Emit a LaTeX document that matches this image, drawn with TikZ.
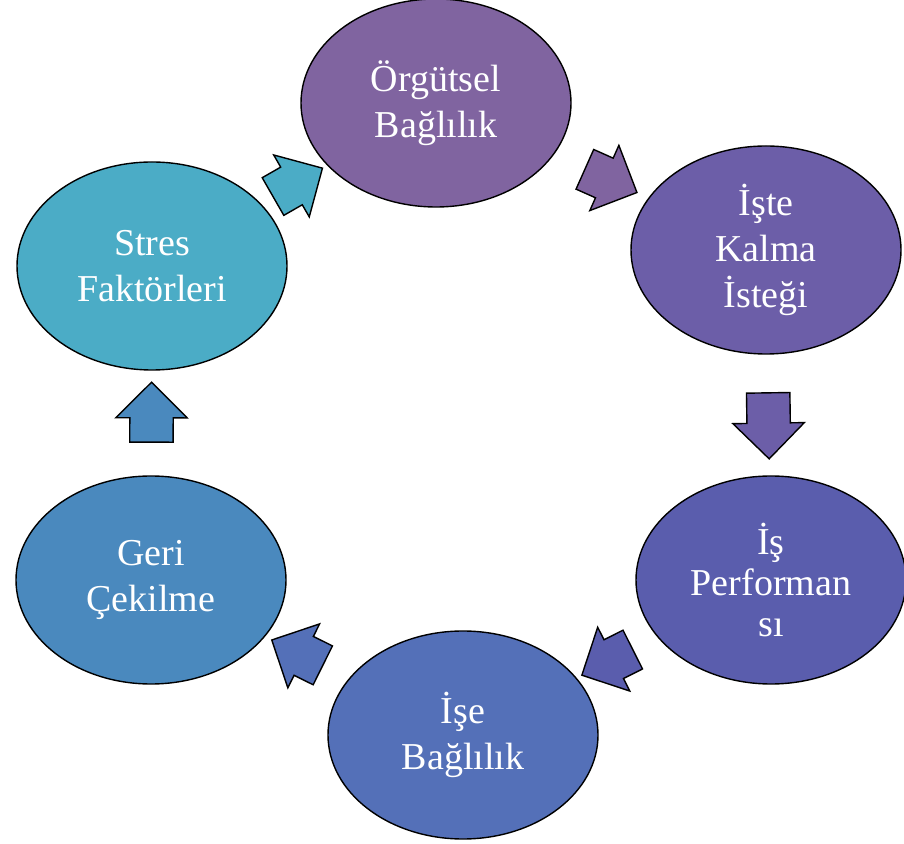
\documentclass[tikz,border=0pt]{standalone}
\usepackage{fontspec}
\setmainfont{Liberation Serif}
\usetikzlibrary{shapes.geometric,shapes.arrows}
\definecolor{cyclestres}{HTML}{4BACC6}
\definecolor{cycleorgut}{HTML}{8064A0}
\definecolor{cyclekalma}{HTML}{6C5EA8}
\definecolor{cycleperf}{HTML}{5A5DAD}
\definecolor{cyclebag}{HTML}{5470B8}
\definecolor{cyclegeri}{HTML}{4A89BE}

\begin{document}
\begin{tikzpicture}[
  x=1pt, y=1pt,
  phase/.style={ellipse, draw=black, line width=1.4pt, minimum width=270pt,
                minimum height=208pt, inner sep=0pt, align=center, text=white,
                font=\fontsize{38}{46}\selectfont},
  flow/.style={single arrow, draw=black, line width=1.4pt, minimum height=57pt,
               single arrow head extend=14pt, inner xsep=0pt, inner ysep=21pt,
               sloped, allow upside down, midway}
]
\useasboundingbox (0,0) rectangle (904,843);

\node[phase, fill=cycleorgut] (p1) at (436,740) {Örgütsel\\Bağlılık};
\node[phase, fill=cyclekalma] (p2) at (766,593) {İşte\\Kalma\\İsteği};
\node[phase, fill=cycleperf, font=\fontsize{38}{41}\selectfont] (p3) at (771,263)
  {İş\\Performan\\sı};
\node[phase, fill=cyclebag] (p4) at (463,108) {İşe\\Bağlılık};
\node[phase, fill=cyclegeri] (p5) at (151,263) {Geri\\Çekilme};
\node[phase, fill=cyclestres] (p6) at (152,577) {Stres\\Faktörleri};

\path (p6.center) -- node[flow, fill=cyclestres, pos=0.48] (a1) {} (p1.center);
\path (p1.center) -- node[flow, fill=cycleorgut] (a2) {} (p2.center);
\path (p2.center) -- node[flow, fill=cyclekalma, minimum height=66pt] (a3) {} (p3.center);
\path (p3.center) -- node[flow, fill=cycleperf] (a4) {} (p4.center);
\path (p4.center) -- node[flow, fill=cyclebag] (a5) {} (p5.center);
\path (p5.center) -- node[flow, fill=cyclegeri, minimum height=60pt] (a6) {} (p6.center);
\end{tikzpicture}
\end{document}
